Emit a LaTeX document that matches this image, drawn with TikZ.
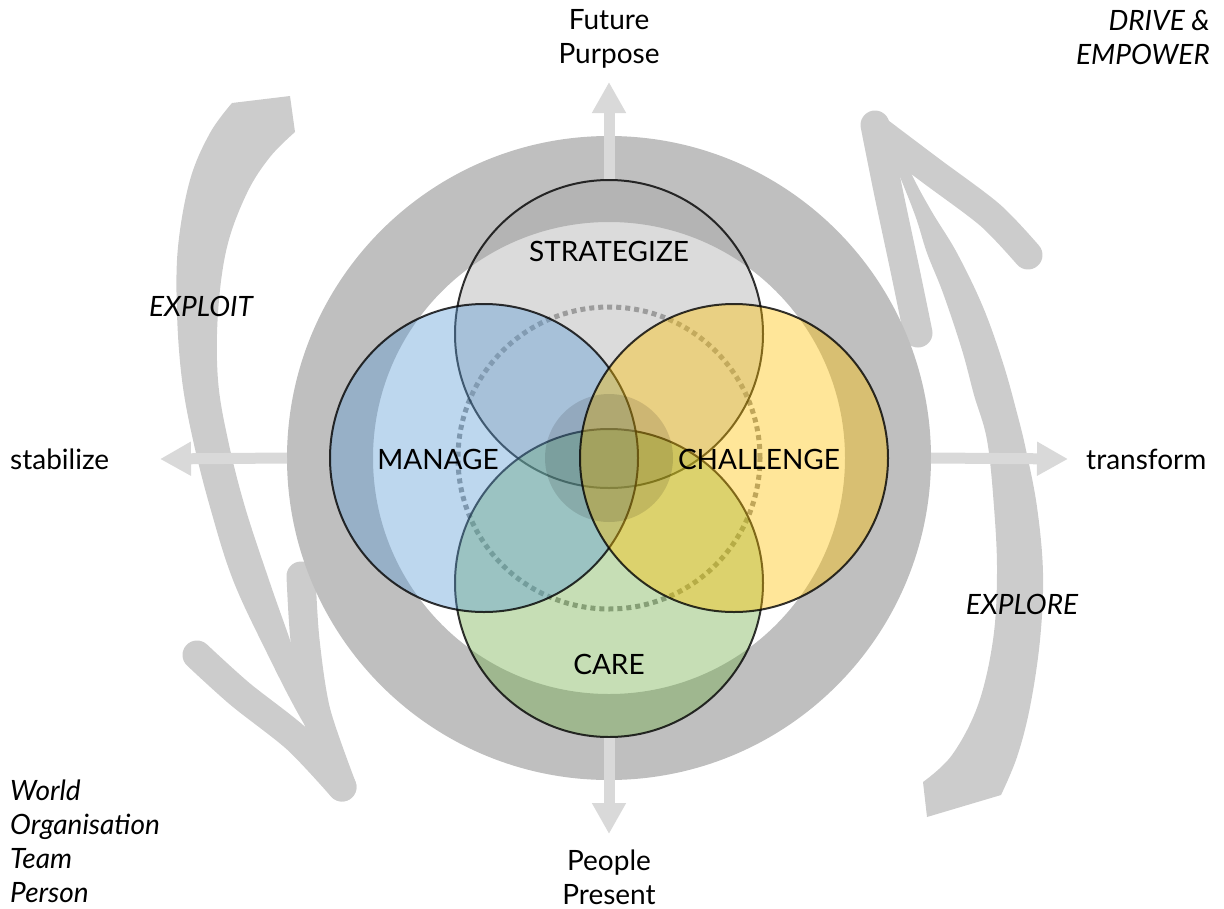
\documentclass[tikz,border=0pt]{standalone}
\usepackage{fontspec}
\setmainfont{Lato}
\usetikzlibrary{arrows.meta}

\definecolor{ringgray}{HTML}{BFBFBF}
\definecolor{axisgray}{HTML}{D9D9D9}
\definecolor{swooshgray}{HTML}{CCCCCC}
\definecolor{dotgray}{HTML}{969696}
\definecolor{stratgray}{HTML}{A5A5A5}
\definecolor{manageblue}{HTML}{5B9BD5}
\definecolor{challgold}{HTML}{FFC000}
\definecolor{caregreen}{HTML}{70AD47}

\begin{document}
\begin{tikzpicture}[
    x=1pt, y=-1pt,
    every node/.style={font=\fontsize{28}{34}\selectfont, inner sep=0pt},
    lens/.style={circle, minimum size=308pt, draw=black, draw opacity=0.8, line width=2pt, fill opacity=0.4},
    axisarrow/.style={axisgray, line width=11pt, -{Triangle[width=32pt, length=31pt]}},
    swoosh/.style={fill=swooshgray},
    barb/.style={swooshgray, line width=29pt, line cap=round}
]
    \useasboundingbox (0,0) rectangle (1224,908);

    \coordinate (centre) at (609,458);
    \coordinate (north tip) at (609,82);
    \coordinate (south tip) at (609,834);
    \coordinate (west tip) at (160,459);
    \coordinate (east tip) at (1068,459);

    % hand drawn swooshes, left one down, right one up
    \fill[swoosh] plot[smooth, tension=0.6] coordinates {(232,103) (210,133) (190,180) (178,247) (177,313) (182,380) (193,440) (210,507) (233,580) (267,653) (300,717) (333,770) (349,800)}
        -- plot[smooth, tension=0.6] coordinates {(340,770) (310,700) (290,640) (270,583) (245,507) (228,440) (218,380) (218,313) (227,247) (247,193) (270,157) (295,132)}
        -- (290,96) -- cycle;
    \draw[barb] plot[smooth] coordinates {(197,655) (240,694) (297,739) (342,787)};
    \draw[barb] plot[smooth] coordinates {(301,576) (305,640) (316,712) (342,787)};

    \fill[swoosh] plot[smooth, tension=0.6] coordinates {(923,782) (952,755) (978,705) (993,640) (997,573) (994,507) (987,440) (974,395) (962,350) (943,293) (927,253) (915,215) (895,165) (878,128)}
        -- plot[smooth, tension=0.6] coordinates {(890,125) (912,175) (932,212) (957,253) (983,307) (1003,363) (1017,413) (1026,450) (1037,507) (1043,573) (1040,640) (1030,707) (1017,757) (1001,795)}
        -- (927,817) -- cycle;
    \draw[barb] plot[smooth] coordinates {(877,130) (930,170) (990,215) (1028,255)};
    \draw[barb] plot[smooth] coordinates {(875,125) (888,190) (905,270) (918,333)};

    \draw[ringgray, line width=86pt] (centre) circle[radius=279pt];

    \draw[dotgray, line width=5pt, dash pattern=on 5pt off 4pt] (centre) circle[radius=151pt];

    \node[lens, fill=stratgray] (strategize) at (609,334) {};
    \node[lens, fill=caregreen] (care) at (609,583) {};
    \node[lens, fill=manageblue] (manage) at (484,458) {};
    \node[lens, fill=challgold] (challenge) at (734,458) {};
    \fill[black, opacity=0.12] (centre) circle[radius=64pt];

    % axes start at the rim of the outer ring
    \draw[axisarrow] (strategize.north) -- (north tip);
    \draw[axisarrow] (care.south) -- (south tip);
    \draw[axisarrow, shorten <=-1pt] ([xshift=-43pt]manage.west) -- (west tip);
    \draw[axisarrow, shorten <=-1pt] ([xshift=43pt]challenge.east) -- (east tip);

    \node (strategize label) at (609,251) {STRATEGIZE};
    \node (manage label) at (438,459) {MANAGE};
    \node (challenge label) at (759,459) {CHALLENGE};
    \node (care label) at (609,664) {CARE};

    \node[align=center] (future) at (609,39) {Future\\Purpose};
    \node[align=center] (people) at (609,877) {People\\Present};
    \node[anchor=west] (stabilize) at (10,459) {stabilize};
    \node[anchor=west] (transform) at (1086,459) {transform};
    \node[font=\fontsize{28}{34}\selectfont\itshape] (exploit) at (201,306) {EXPLOIT};
    \node[font=\fontsize{28}{34}\selectfont\itshape] (explore) at (1022,604) {EXPLORE};
    \node[anchor=east, align=right, font=\fontsize{28}{34}\selectfont\itshape] (drive) at (1210,37) {DRIVE \&\\EMPOWER};
    \node[anchor=west, align=left, font=\fontsize{28}{34}\selectfont\itshape] (levels) at (10,841) {World\\Organisation\\Team\\Person};
\end{tikzpicture}
\end{document}
